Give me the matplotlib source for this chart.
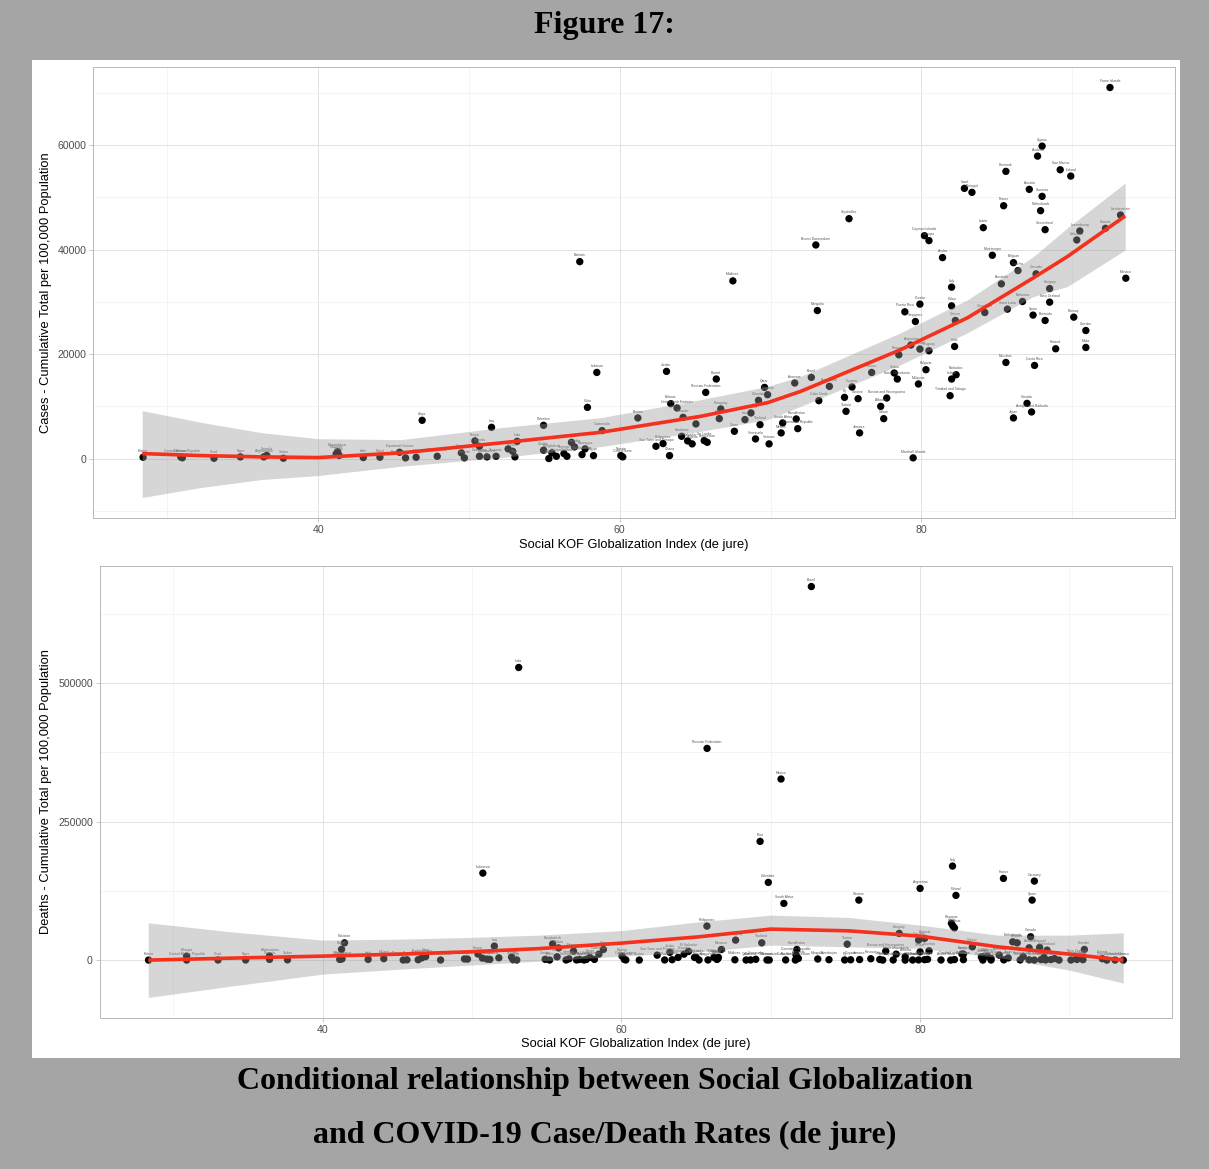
import numpy as np
import matplotlib
matplotlib.use('Agg')
import matplotlib.pyplot as plt
from matplotlib.patches import Rectangle
from matplotlib.ticker import FixedLocator, FuncFormatter

plt.rcParams['font.family'] = ['Liberation Sans', 'DejaVu Sans']

# ---- cases panel (top) ----
cases_country = [
    "Eritrea", "Comoros", "Central African Republic", "Chad", "Niger", "Afghanistan", "Somalia", "Sudan", "Pakistan", "Mozambique",
    "Congo", "Haiti", "Nepal", "Equatorial Guinea", "Papua New Guinea", "Mali", "Libya", "Burkina Faso", "Yemen", "Angola",
    "Kenya", "Uganda", "Cameroon", "Madagascar", "Iraq", "Tanzania", "Zimbabwe", "Lesotho", "Togo", "India",
    "Palestine", "Zambia", "Benin", "Bangladesh", "Guinea", "Senegal", "Gambia", "Eswatini", "Namibia", "Bahrain",
    "Sierra Leone", "Nicaragua", "Cuba", "Egypt", "Lebanon", "Guatemala", "Nigeria", "Cote d'Ivoire", "Bhutan", "Sao Tome and Principe",
    "Philippines", "Jordan", "Ghana", "Belarus", "United Arab Emirates", "Honduras", "Ecuador", "El Salvador", "Algeria", "Peru",
    "Sri Lanka", "Russian Federation", "Kyrgyzstan", "Kuwait", "Bolivia", "Paraguay", "Maldives", "Oman", "Iran", "Moldova",
    "Venezuela", "Colombia", "Thailand", "Qatar", "Panama", "Vietnam", "Mexico", "South Africa", "Armenia", "Kazakhstan",
    "Dominican Republic", "Brazil", "Brunei Darussalam", "Mongolia", "Cabo Verde", "Azerbaijan", "Fiji", "Guyana", "Tunisia", "Ukraine",
    "Jamaica", "Kosovo", "Albania", "Gabon", "Bosnia and Herzegovina", "Serbia", "North Macedonia", "Romania", "Marshall Islands", "Malaysia",
    "Bulgaria", "Uruguay", "Trinidad and Tobago", "Ireland", "Barbados", "Puerto Rico", "Argentina", "Singapore", "Croatia", "Poland",
    "Palau", "Italy", "Greece", "Chile", "Aruba", "Greenland", "Australia", "Saint Lucia", "Mauritius", "Czechia",
    "Belgium", "Bahamas", "Spain", "Costa Rica", "Grenada", "Canada", "Antigua and Barbuda", "Japan", "Bermuda", "Hungary",
    "New Zealand", "Finland", "Norway", "Sweden", "Malta", "Monaco", "Faroe Islands", "Cyprus", "Andorra", "Denmark",
    "San Marino", "Iceland", "Israel", "Portugal", "Austria", "Slovenia", "France", "Netherlands", "Seychelles", "Latvia",
    "Switzerland", "Luxembourg", "Lithuania", "Estonia", "Liechtenstein", "Cayman Islands", "Georgia", "Montenegro"]

cases_kof = [
    28.4, 30.9, 31.0, 33.1, 34.85, 36.4, 36.6, 37.7, 41.2, 41.3,
    41.4, 43.0, 44.1, 45.4, 45.8, 46.5, 46.9, 47.9, 49.5, 49.7,
    50.4, 50.7, 50.7, 51.2, 51.5, 51.8, 52.6, 52.9, 53.05, 53.2,
    54.95, 54.95, 55.3, 55.5, 55.8, 56.3, 56.5, 56.8, 57.0, 57.35,
    57.5, 57.7, 57.86, 58.26, 58.48, 58.83, 60.07, 60.2, 61.2, 62.4,
    62.87, 63.1, 63.3, 63.38, 63.8, 64.1, 64.2, 64.5, 64.8, 65.05,
    65.6, 65.7, 65.8, 66.4, 66.6, 66.7, 67.5, 67.6, 68.3, 68.7,
    69.0, 69.2, 69.3, 69.6, 69.8, 69.9, 70.7, 70.8, 71.6, 71.7,
    71.8, 72.7, 73.0, 73.1, 73.2, 73.9, 74.9, 75.4, 75.0, 75.8,
    75.9, 76.7, 77.3, 77.5, 77.7, 78.2, 78.4, 78.5, 79.45, 79.8,
    80.3, 80.5, 81.9, 82.0, 82.3, 78.9, 79.3, 79.6, 79.9, 79.9,
    82.0, 82.0, 82.25, 82.2, 81.4, 84.2, 85.3, 85.7, 85.6, 86.4,
    86.1, 86.7, 87.4, 87.5, 87.6, 87.0, 87.3, 86.1, 88.2, 88.5,
    88.5, 88.9, 90.1, 90.9, 90.9, 93.55, 92.5, 88.0, 87.7, 85.6,
    89.2, 89.9, 82.85, 83.35, 87.15, 88.0, 85.45, 87.9, 75.2, 84.1,
    88.2, 90.5, 90.3, 92.2, 93.2, 80.2, 80.5, 84.7]

cases_total = [
    250, 300, 150, 60, 320, 320, 600, 60, 900, 1300,
    600, 190, 250, 1200, 130, 250, 7320, 440, 1090, 130,
    3380, 2350, 440, 320, 5980, 440, 1850, 1400, 320, 3300,
    6360, 1590, 0, 1090, 440, 955, 440, 3110, 2230, 37680,
    760, 1850, 9800, 570, 16480, 5350, 570, 320, 7770, 2350,
    2870, 16680, 570, 10500, 9680, 4260, 7890, 3380, 2810, 6630,
    3440, 12660, 3110, 15220, 7640, 9490, 34000, 5220, 7450, 8730,
    3760, 11140, 6490, 13620, 12220, 2810, 4910, 6820, 14460, 7580,
    5730, 15530, 40870, 28320, 11080, 13810, 11710, 13700, 9040, 11460,
    4910, 16480, 9990, 7640, 11590, 16370, 15220, 19860, 130, 14270,
    17000, 20630, 12030, 15220, 16040, 28080, 21720, 26230, 29550, 20950,
    29220, 32800, 26420, 21450, 38450, 27940, 33430, 28590, 18390, 35970,
    37490, 30050, 27450, 17820, 35340, 10560, 8920, 7770, 26420, 32530,
    29930, 21010, 27060, 24500, 21260, 34510, 71000, 59780, 57870, 54950,
    55260, 54050, 51700, 50940, 51510, 50170, 48380, 47430, 45900, 44180,
    43800, 43550, 41830, 44060, 46600, 42650, 41700, 38900]

# smoother (fit and confidence band)
cases_fit_kof = [28.34, 32.25, 36.23, 40.0, 45.5, 52.12, 58.74, 65.36, 69.8, 71.99, 78.61, 83.05, 87.42, 89.67, 93.51]
cases_fit = [955, 573, 325, 191, 1089, 2999, 5024, 8080, 10696, 12854, 20819, 26931, 34571, 38639, 46413]
cases_fit_hi = [9168, 6930, 4966, 3800, 3629, 5921, 7831, 11269, 13809, 15719, 24066, 30369, 38639, 44121, 52716]
cases_fit_lo = [-7449, -5539, -4011, -3247, -1471, 191, 2292, 5214, 7449, 9990, 17954, 24066, 30999, 32909, 39919]

# ---- deaths panel (bottom) ----
deaths_country = [
    "Eritrea", "Ethiopia", "Central African Republic", "Chad", "Niger", "Afghanistan", "Somalia", "Sudan", "Pakistan", "Nepal",
    "Congo", "Mozambique", "Haiti", "Malawi", "Equatorial Guinea", "Papua New Guinea", "Mali", "Burkina Faso", "Libya", "Guinea-Bissau",
    "Yemen", "Angola", "Indonesia", "Kenya", "Uganda", "Cameroon", "Madagascar", "Iraq", "Tanzania", "Zimbabwe",
    "Lesotho", "Togo", "India", "Zambia", "Benin", "Bangladesh", "Guinea", "Bolivia", "Senegal", "Gambia",
    "Myanmar", "Namibia", "Sierra Leone", "Nicaragua", "Cuba", "Egypt", "Lebanon", "Guatemala", "Syria", "Nigeria",
    "Cote d'Ivoire", "Cambodia", "Bhutan", "Sao Tome and Principe", "Ghana", "Jordan", "Belarus", "Honduras", "Ecuador", "El Salvador",
    "Algeria", "Sri Lanka", "Philippines", "Russian Federation", "Kyrgyzstan", "Tajikistan", "Kuwait", "Peru", "Mexico", "Colombia",
    "South Africa", "Paraguay", "Morocco", "Uzbekistan", "Oman", "Thailand", "Kazakhstan", "Dominican Republic", "Armenia", "Tunisia",
    "Ukraine", "Hungary", "Czechia", "Bulgaria", "Serbia", "Slovakia", "Argentina", "Italy", "Poland", "Romania",
    "Chile", "Malaysia", "Greece", "Croatia", "Lithuania", "Netherlands", "Belgium", "Canada", "France", "Germany",
    "Spain", "Austria", "Portugal", "Switzerland", "Sweden", "Bosnia and Herzegovina", "North Macedonia", "Albania", "Georgia", "Moldova",
    "Vanuatu", "Maldives", "Qatar", "Panama", "Venezuela", "Vietnam", "Turkmenistan", "Cabo Verde", "Brunei Darussalam", "Mongolia",
    "Azerbaijan", "Fiji", "Guyana", "Jamaica", "Kosovo", "Gabon", "Samoa", "Seychelles", "Marshall Islands", "Mauritius",
    "Puerto Rico", "Singapore", "Uruguay", "Aruba", "Palau", "Trinidad and Tobago", "Barbados", "Greenland", "Saint Lucia", "Bahamas",
    "Grenada", "Antigua and Barbuda", "Bermuda", "Cyprus", "Andorra", "Slovenia", "San Marino", "Iceland", "Luxembourg", "Malta",
    "Estonia", "Faroe Islands", "Liechtenstein", "Monaco", "Ireland", "Finland", "Norway", "New Zealand", "Japan", "Australia",
    "Israel", "Latvia", "Brazil"]

deaths_kof = [
    28.35, 30.9, 30.9, 33.0, 34.85, 36.45, 36.45, 37.65, 41.47, 41.27,
    41.15, 41.3, 43.05, 44.1, 45.4, 45.65, 46.4, 46.65, 46.9, 47.9,
    49.5, 49.7, 50.73, 50.4, 50.7, 51.0, 51.2, 51.5, 51.8, 52.65,
    52.75, 53.0, 53.13, 54.9, 55.2, 55.4, 55.7, 55.8, 56.3, 56.5,
    56.8, 57.0, 57.2, 57.5, 57.65, 57.9, 58.2, 58.5, 58.8, 60.05,
    60.2, 60.3, 61.2, 62.4, 62.9, 63.25, 63.4, 63.8, 64.2, 64.5,
    64.9, 65.0, 65.73, 65.74, 65.8, 66.2, 66.4, 69.29, 70.69, 69.84,
    70.88, 67.65, 66.7, 66.5, 66.45, 69.4, 71.75, 71.7, 71.85, 75.12,
    75.9, 78.6, 79.9, 80.3, 80.0, 80.6, 80.0, 82.17, 82.4, 82.1,
    82.2, 82.3, 83.5, 84.2, 84.75, 86.2, 86.5, 87.4, 85.58, 87.65,
    87.5, 87.3, 88.0, 88.5, 91.0, 77.7, 78.4, 79.0, 82.9, 84.5,
    65.2, 67.6, 68.35, 68.65, 69.0, 69.75, 69.9, 71.0, 71.65, 73.15,
    73.9, 74.95, 75.35, 75.95, 76.7, 77.3, 77.5, 78.2, 79.0, 79.5,
    79.9, 80.3, 80.5, 81.4, 82.05, 82.3, 82.9, 84.2, 84.75, 85.6,
    86.7, 87.3, 87.65, 88.1, 88.4, 88.75, 89.3, 90.1, 90.5, 90.9,
    92.2, 92.5, 93.05, 93.6, 86.9, 88.3, 89.0, 90.5, 85.9, 85.3,
    82.8, 84.1, 72.72]

deaths_total = [
    100, 7200, 100, 200, 300, 7400, 1300, 500, 31200, 19500,
    1300, 2200, 1300, 2600, 200, 600, 700, 4150, 6400, 200,
    2100, 1900, 157000, 11000, 3600, 1900, 1400, 25300, 4150, 5400,
    700, 300, 528000, 1500, 160, 29100, 6000, 22000, 300, 2300,
    16200, 300, 1200, 240, 1200, 4900, 1300, 10800, 19300, 7200,
    1300, 300, 100, 9000, 300, 14100, 800, 4900, 10800, 15700,
    4900, 4900, 61400, 382000, 300, 4900, 1300, 214200, 326700, 140200,
    102300, 36100, 19300, 4870, 2350, 31200, 19300, 9000, 3000, 28900,
    108300, 48200, 36100, 39200, 15000, 16800, 129400, 169700, 116800, 66200,
    61400, 58300, 24000, 6000, 3000, 33000, 31200, 42100, 147400, 142600,
    108300, 22200, 22900, 18000, 19300, 16200, 10800, 6000, 10800, 7200,
    300, 600, 200, 400, 1500, 250, 200, 350, 150, 2000,
    800, 300, 600, 1000, 2500, 1200, 100, 300, 50, 200,
    400, 800, 1500, 300, 50, 1000, 800, 100, 200, 500,
    300, 500, 100, 1000, 300, 1000, 100, 200, 1200, 800,
    2500, 50, 100, 50, 6500, 5000, 2800, 4500, 4000, 9000,
    11000, 5500, 674000]

deaths_fit_kof = [28.33, 33.87, 40.0, 45.2, 49.8, 54.5, 60.0, 65.2, 70.0, 75.2, 80.0, 85.2, 90.0, 93.6]
deaths_fit = [0, 3610, 7220, 10830, 14980, 20760, 30690, 42060, 55960, 52890, 43320, 24010, 10830, 0]
deaths_fit_hi = [67330, 51080, 36100, 37910, 40970, 45130, 53250, 69130, 81230, 77070, 63180, 45130, 45130, 49280]
deaths_fit_lo = [-67330, -46930, -25270, -16245, -9025, -1805, 7220, 14980, 27080, 24010, 21300, 4870, -18050, -41520]

assert len(cases_country) == len(cases_kof) == len(cases_total)
assert len(deaths_country) == len(deaths_kof) == len(deaths_total)

W, H = 1209, 1169
fig = plt.figure(figsize=(W / 100, H / 100), dpi=100, facecolor='#a5a5a5')
fig.patches.append(Rectangle((32 / W, 1 - 1058 / H), (1180 - 32) / W, (1058 - 60) / H,
                             transform=fig.transFigure, facecolor='white', edgecolor='none', zorder=-10))


def panel(rect, kof, vals, names, fx, fy, flo, fhi, ylab, yticks, yminor, ylabx, xlaby):
    ax = fig.add_axes(rect)
    ax.scatter(kof, vals, s=28, color='black', edgecolors='none', zorder=2)
    for n, x, y in zip(names, kof, vals):
        ax.annotate(n, (x, y), xytext=(0, 4.6), textcoords='offset points', ha='center', va='center',
                    fontsize=2.4, color='#555555', zorder=2)
    ax.fill_between(fx, flo, fhi, color='#999999', alpha=0.4, linewidth=0, zorder=3)
    ax.plot(fx, fy, color='#f5301c', lw=2.6, zorder=4, solid_capstyle='butt')

    # ggplot-like 5% expansion
    xs = list(kof) + list(fx)
    ys = list(vals) + list(flo) + list(fhi)
    xp = 0.05 * (max(xs) - min(xs))
    yp = 0.05 * (max(ys) - min(ys))
    ax.set_xlim(min(xs) - xp, max(xs) + xp)
    ax.set_ylim(min(ys) - yp, max(ys) + yp)

    ax.xaxis.set_major_locator(FixedLocator([40, 60, 80]))
    ax.xaxis.set_minor_locator(FixedLocator([30, 50, 70, 90]))
    ax.yaxis.set_major_locator(FixedLocator(yticks))
    ax.yaxis.set_minor_locator(FixedLocator(yminor))
    ax.yaxis.set_major_formatter(FuncFormatter(lambda v, p: '%d' % v))
    ax.grid(which='major', color='#e2e2e2', lw=0.7)
    ax.grid(which='minor', color='#eeeeee', lw=0.45)
    ax.set_axisbelow(True)
    for s in ax.spines.values():
        s.set_color('#b8b8b8')
        s.set_linewidth(0.7)
    ax.tick_params(which='major', length=2.6, width=0.5, color='#b3b3b3', labelsize=7.6,
                   labelcolor='#4d4d4d', pad=2.2)
    ax.tick_params(which='minor', length=0)
    ax.set_xlabel('Social KOF Globalization Index (de jure)', fontsize=9.3, va='center')
    ax.xaxis.set_label_coords(0.5, xlaby)
    ax.set_ylabel(ylab, fontsize=9.3, va='center')
    ax.yaxis.set_label_coords(ylabx, 0.5)
    return ax


panel([93 / W, 1 - 518 / H, 1082 / W, 451 / H], cases_kof, cases_total, cases_country,
      cases_fit_kof, cases_fit, cases_fit_lo, cases_fit_hi,
      'Cases - Cumulative Total per 100,000 Population',
      [0, 20000, 40000, 60000], [-10000, 10000, 30000, 50000, 70000],
      (46 - 93) / 1082, (518 - 545) / 451)

panel([99.5 / W, 1 - 1018 / H, 1072.5 / W, 452 / H], deaths_kof, deaths_total, deaths_country,
      deaths_fit_kof, deaths_fit, deaths_fit_lo, deaths_fit_hi,
      'Deaths - Cumulative Total per 100,000 Population',
      [0, 250000, 500000], [-125000, 125000, 375000, 625000],
      (46 - 99.5) / 1072.5, (1018 - 1044) / 452)

serif = ['Liberation Serif', 'DejaVu Serif']
fig.text(0.5, 1 - 25 / H, 'Figure 17:', family=serif, fontweight='bold', fontsize=23,
         ha='center', va='center')
fig.text(0.5, 1 - 1081 / H, 'Conditional relationship between Social Globalization', family=serif,
         fontweight='bold', fontsize=23, ha='center', va='center')
fig.text(0.5, 1 - 1135 / H, 'and COVID-19 Case/Death Rates (de jure)', family=serif,
         fontweight='bold', fontsize=23, ha='center', va='center')

fig.savefig('out.png', dpi=100, facecolor=fig.get_facecolor())
